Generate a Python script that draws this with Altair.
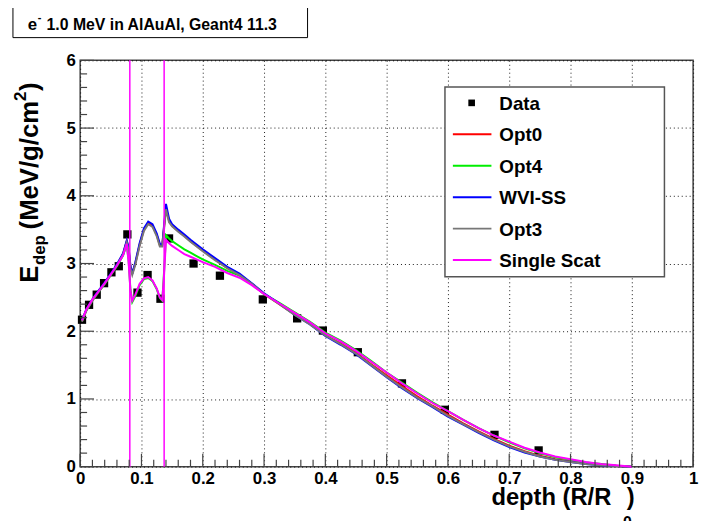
import altair as alt
import numpy as np
import pandas as pd

# ---------------- data ----------------
depth = [0.003, 0.01, 0.02, 0.03, 0.04, 0.05, 0.06, 0.07, 0.076, 0.079, 0.082, 0.085,
         0.09, 0.097, 0.104, 0.111, 0.118, 0.125, 0.130, 0.134, 0.137, 0.140, 0.145,
         0.150, 0.16, 0.17, 0.18, 0.19, 0.20, 0.22, 0.24, 0.26, 0.28, 0.30, 0.325,
         0.35, 0.375, 0.40, 0.425, 0.45, 0.475, 0.50, 0.525, 0.55, 0.575, 0.60, 0.625,
         0.65, 0.675, 0.70, 0.725, 0.75, 0.775, 0.80, 0.825, 0.85, 0.875, 0.90]

opt0 = [2.15, 2.31, 2.46, 2.59, 2.71, 2.84, 2.98, 3.14, 3.33, 3.22, 2.95, 2.86, 3.00,
        3.28, 3.50, 3.60, 3.56, 3.42, 3.27, 3.28, 3.55, 3.82, 3.63, 3.56, 3.48, 3.41,
        3.33, 3.26, 3.19, 3.06, 2.93, 2.84, 2.70, 2.55, 2.40, 2.25, 2.11, 1.94, 1.82,
        1.68, 1.51, 1.35, 1.19, 1.04, 0.90, 0.77, 0.64, 0.52, 0.41, 0.31, 0.23, 0.16,
        0.11, 0.08, 0.05, 0.03, 0.01, 0.0]
opt4 = [2.15, 2.31, 2.46, 2.58, 2.70, 2.83, 2.96, 3.12, 3.28, 3.05, 2.62, 2.43, 2.52,
        2.68, 2.77, 2.79, 2.74, 2.62, 2.49, 2.45, 2.90, 3.42, 3.37, 3.33, 3.27, 3.21,
        3.16, 3.11, 3.06, 2.98, 2.89, 2.82, 2.70, 2.55, 2.42, 2.28, 2.14, 1.98, 1.86,
        1.72, 1.56, 1.39, 1.24, 1.09, 0.95, 0.82, 0.69, 0.57, 0.46, 0.36, 0.27, 0.20,
        0.14, 0.10, 0.06, 0.04, 0.015, 0.0]
wvi_ss = [2.16, 2.32, 2.47, 2.60, 2.72, 2.85, 2.99, 3.15, 3.34, 3.24, 2.97, 2.85, 3.02,
          3.30, 3.52, 3.62, 3.58, 3.44, 3.29, 3.27, 3.58, 3.88, 3.66, 3.58, 3.50, 3.43,
          3.35, 3.28, 3.21, 3.08, 2.95, 2.85, 2.71, 2.56, 2.41, 2.24, 2.10, 1.93, 1.80,
          1.66, 1.49, 1.32, 1.16, 1.01, 0.88, 0.74, 0.62, 0.50, 0.39, 0.29, 0.21, 0.15,
          0.10, 0.07, 0.04, 0.02, 0.01, 0.0]
opt3 = [2.14, 2.30, 2.45, 2.58, 2.70, 2.83, 2.97, 3.13, 3.31, 3.20, 2.93, 2.83, 2.98,
        3.26, 3.48, 3.58, 3.54, 3.40, 3.25, 3.25, 3.52, 3.80, 3.61, 3.55, 3.47, 3.40,
        3.32, 3.25, 3.18, 3.05, 2.93, 2.83, 2.70, 2.55, 2.40, 2.24, 2.10, 1.94, 1.81,
        1.67, 1.50, 1.33, 1.17, 1.02, 0.89, 0.75, 0.63, 0.51, 0.40, 0.30, 0.22, 0.15,
        0.10, 0.07, 0.04, 0.02, 0.01, 0.0]
single_scat = [2.16, 2.32, 2.47, 2.59, 2.71, 2.84, 2.97, 3.12, 3.29, 3.02, 2.60, 2.45,
               2.54, 2.70, 2.78, 2.80, 2.75, 2.63, 2.50, 2.46, 2.85, 3.35, 3.30, 3.26,
               3.20, 3.14, 3.10, 3.06, 3.02, 2.95, 2.86, 2.79, 2.68, 2.55, 2.41, 2.27,
               2.13, 1.97, 1.85, 1.71, 1.55, 1.39, 1.23, 1.08, 0.94, 0.82, 0.69, 0.57,
               0.46, 0.37, 0.28, 0.21, 0.15, 0.11, 0.07, 0.04, 0.02, 0.0]

data_x = [0.003, 0.0145, 0.027, 0.039, 0.051, 0.063, 0.077, 0.0935, 0.110, 0.131,
          0.145, 0.185, 0.228, 0.298, 0.354, 0.396, 0.453, 0.525, 0.595, 0.676, 0.748]
data_y = [2.17, 2.39, 2.54, 2.71, 2.87, 2.96, 3.43, 2.57, 2.83, 2.48, 3.37, 3.00,
          2.82, 2.47, 2.19, 2.01, 1.69, 1.23, 0.84, 0.47, 0.24]

layer_bounds = [0.081, 0.137]

series_names = ["Opt0", "Opt4", "WVI-SS", "Opt3", "Single Scat"]
series_values = [opt0, opt4, wvi_ss, opt3, single_scat]
series_colors = ["#ff0000", "#00ee00", "#0000ff", "#777777", "#ff00ff"]

x_tick_labels = [0, 0.1, 0.2, 0.3, 0.4, 0.5, 0.6, 0.7, 0.8, 0.9, 1]
y_tick_labels = [0, 1, 2, 3, 4, 5, 6]

title_text = "1.0 MeV in AlAuAl, Geant4 11.3"

# ---------------- chart ----------------
W, H = 620, 411
FONT = "Liberation Sans"
one = pd.DataFrame({"k": [0]})

xscale = alt.Scale(domain=[0, 1], nice=False, zero=False)
yscale = alt.Scale(domain=[0, 6], nice=False, zero=False)
common_axis = dict(title=None, ticks=False, domain=False, grid=True, gridDash=[1, 3],
                   gridColor="#000000", gridOpacity=0.9, gridWidth=1, labelFont=FONT,
                   labelFontSize=17, labelFontWeight="bold", labelColor="#000000",
                   labelOverlap=False, labelFlush=False)
xaxis = alt.Axis(values=x_tick_labels, format=".1~f", labelPadding=4, **common_axis)
yaxis = alt.Axis(values=y_tick_labels, format="d", labelPadding=5, **common_axis)


def X(f):
    return alt.X(f, type="quantitative", scale=xscale, axis=xaxis)


def Y(f):
    return alt.Y(f, type="quantitative", scale=yscale, axis=yaxis)


layers = []

# measured points
pts = pd.DataFrame({"depth": data_x, "edep": data_y})
layers.append(alt.Chart(pts).mark_square(size=70, color="#000000", opacity=1)
              .encode(x=X("depth"), y=Y("edep")))

# simulation curves
for name, vals, col in zip(series_names, series_values, series_colors):
    df = pd.DataFrame({"depth": depth, "edep": vals})
    layers.append(alt.Chart(df).mark_line(color=col, strokeWidth=2, interpolate="linear")
                  .encode(x=X("depth"), y=Y("edep")))

# layer boundaries
bd = pd.DataFrame({"b": layer_bounds})
layers.append(alt.Chart(bd).mark_rule(color="#ff00ff", strokeWidth=1.5)
              .encode(x=X("b")))

# ROOT-style inward ticks
xt = np.round(np.arange(0, 1.0001, 0.02), 3)
xmaj = pd.DataFrame({"t": [v for v in xt if abs(v * 10 - round(v * 10)) < 1e-6]})
xmin = pd.DataFrame({"t": [v for v in xt if abs(v * 10 - round(v * 10)) >= 1e-6]})
yt = np.round(np.arange(0, 6.0001, 0.2), 3)
ymaj = pd.DataFrame({"t": [v for v in yt if abs(v - round(v)) < 1e-6]})
ymin = pd.DataFrame({"t": [v for v in yt if abs(v - round(v)) >= 1e-6]})
tick_col = "#444444"
layers.append(alt.Chart(xmaj).mark_rule(color=tick_col, strokeWidth=1.2)
              .encode(x=X("t"), y=alt.value(H), y2=alt.value(H - 13)))
layers.append(alt.Chart(xmin).mark_rule(color=tick_col, strokeWidth=1.2)
              .encode(x=X("t"), y=alt.value(H), y2=alt.value(H - 7)))
layers.append(alt.Chart(ymaj).mark_rule(color=tick_col, strokeWidth=1.2)
              .encode(y=Y("t"), x=alt.value(0), x2=alt.value(14)))
layers.append(alt.Chart(ymin).mark_rule(color=tick_col, strokeWidth=1.2)
              .encode(y=Y("t"), x=alt.value(0), x2=alt.value(7)))

# legend
LX0, LX1, LY0, LY1 = 369, 591, 27, 219
layers.append(alt.Chart(one).mark_rect(fill="#ffffff", stroke="#555555", strokeWidth=1.5)
              .encode(x=alt.value(LX0), x2=alt.value(LX1), y=alt.value(LY0), y2=alt.value(LY1)))
legend_labels = ["Data"] + series_names
legend_colors = ["#000000"] + series_colors
for i, (lab, col) in enumerate(zip(legend_labels, legend_colors)):
    ry = 43 + i * 31.8
    if i == 0:
        layers.append(alt.Chart(one).mark_square(size=45, color=col, opacity=1)
                      .encode(x=alt.value(396), y=alt.value(ry)))
    else:
        layers.append(alt.Chart(one).mark_rule(color=col, strokeWidth=2)
                      .encode(x=alt.value(377), x2=alt.value(416), y=alt.value(ry)))
    layers.append(alt.Chart(one).mark_text(text=lab, font=FONT, fontSize=19, fontWeight="bold",
                                           align="left", baseline="middle", color="#000000")
                  .encode(x=alt.value(424), y=alt.value(ry + 1)))


def txt(s, x, y, size, angle=0):
    return (alt.Chart(one).mark_text(text=s, font=FONT, fontSize=size, fontWeight="bold",
                                     align="left", baseline="alphabetic", color="#000000",
                                     angle=angle)
            .encode(x=alt.value(x), y=alt.value(y)))


# title box
layers.append(alt.Chart(one).mark_rect(fill="#ffffff", stroke="#000000", strokeWidth=1)
              .encode(x=alt.value(-68), x2=alt.value(230), y=alt.value(-54), y2=alt.value(-23)))
layers.append(txt("e", -53, -31, 17))
layers.append(txt("-", -43, -40, 11))
layers.append(txt(title_text, -34, -31, 16))

# x-axis title: depth (R/R_0)
layers.append(txt("depth (R/R", 416, 450, 24))
layers.append(txt("0", 549, 473, 16))
layers.append(txt(")", 553, 450, 24))

# y-axis title: E_dep (MeV/g/cm^2)
layers.append(txt("E", -43, 225, 26, 270))
layers.append(txt("dep", -36, 207, 17, 270))
layers.append(txt("(MeV/g/cm", -43, 171, 26, 270))
layers.append(txt("2", -55, 41, 17, 270))
layers.append(txt(")", -43, 31, 26, 270))

chart = (alt.layer(*layers)
         .properties(width=W, height=H, autosize="none",
                     padding={"left": 73, "top": 50, "right": 9, "bottom": 52},
                     background="#ffffff")
         .configure_view(stroke="#444444", strokeWidth=1.5))

chart.save("out.html", embed_options={"renderer": "svg", "actions": False})
